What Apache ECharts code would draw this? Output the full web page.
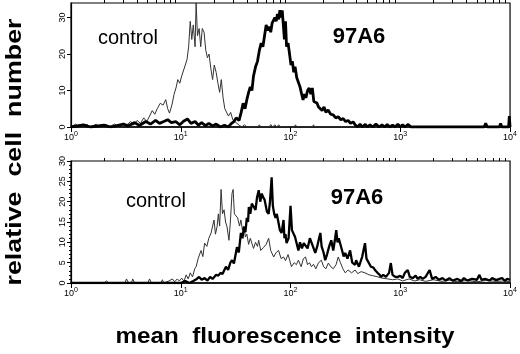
<!DOCTYPE html>
<html>
<head>
<meta charset="utf-8">
<script src="https://cdn.jsdelivr.net/npm/echarts@6/dist/echarts.min.js"></script>
<style>
  html, body { margin: 0; padding: 0; background: #fff; }
  #chart { width: 520px; height: 354px; }
</style>
</head>
<body>
<div id="chart"></div>
<script>
// decade ticks and 2..9 ticks of the log axis
var decades = [1, 10, 100, 1000, 10000];
var minorTicks = [2, 3, 4, 5, 6, 7, 8, 9, 20, 30, 40, 50, 60, 70, 80, 90,
  200, 300, 400, 500, 600, 700, 800, 900, 2000, 3000, 4000, 5000, 6000, 7000, 8000, 9000];

// upper panel: control (thin) and 97A6 (thick) histograms, [intensity, count]
var topControl = [
  [1, 0], [1.1, 0.8], [1.2, 0], [1.4, 0.7], [1.5, 0], [1.7, 0.8], [1.8, 0], [2.1, 0.6], [2.2, 0],
  [2.5, 0.8], [2.7, 0], [3.0, 1], [3.2, 0.5], [3.5, 1.5], [3.7, 0.5], [4.0, 1.8], [4.3, 1],
  [4.6, 2.5], [4.9, 1.5], [5.2, 3], [5.5, 4.5], [5.8, 3.5], [6.1, 5], [6.5, 6.5], [6.9, 6],
  [7.3, 7.5], [7.6, 5], [7.9, 3.8], [8.3, 6], [8.7, 9], [9.1, 11], [9.4, 13], [9.8, 12],
  [10.2, 14], [10.6, 13.5], [11, 17], [11.4, 18.5], [11.8, 22], [12.2, 29], [12.6, 24],
  [13, 28], [13.5, 22], [13.8, 34], [14.2, 25], [14.7, 27], [15.2, 22], [15.7, 27], [16.3, 26],
  [16.9, 21], [17.5, 19], [18.1, 20], [18.8, 16], [19.5, 13], [20.2, 17], [21, 15], [21.8, 12],
  [22.6, 9.5], [23.4, 13], [24.3, 8], [25.2, 5], [26.2, 4.5], [27.2, 3], [28.5, 4], [29.8, 2],
  [31, 1.5], [32.5, 1], [34, 0.5], [36, 0], [38, 0.6], [40, 0], [50, 0], [52, 0.6], [54, 0],
  [64, 0], [66, 0.7], [69, 0], [72, 0.6], [75, 0], [78, 0.6], [81, 0], [108, 0], [111, 0.6],
  [114, 0], [158, 0], [162, 0.6], [166, 0], [10000, 0]
];
var top97A6 = [
  [1, 0], [1.3, 0.6], [1.5, 0], [2, 0.5], [2.3, 0], [3, 0.8], [3.3, 0.3], [3.8, 1.2], [4.2, 0.4],
  [4.8, 1.5], [5.3, 0.8], [5.9, 1.8], [6.4, 1], [7, 1.5], [7.6, 2], [8.2, 1.2], [9, 1.5],
  [9.8, 0.6], [10.6, 1.6], [11.5, 2.2], [12.4, 1], [13.5, 1.5], [14.5, 0.5], [15.5, 1.2],
  [16.8, 0.4], [18, 1], [19.5, 0.3], [21, 0.8], [23, 0], [25, 0.5], [27, 0], [29, 1], [30.5, 1.5],
  [32, 2.5], [34, 1.8], [35.5, 4], [37, 6.5], [38.5, 5], [40, 7.5], [41.5, 9.5], [43, 11],
  [44.5, 10], [46, 14], [48, 16.5], [50, 18], [52, 21], [54, 23], [56, 22], [58, 25], [60, 28],
  [62, 26.5], [64, 27.5], [66, 26], [68, 28.5], [70, 28], [72, 30], [74, 29], [76, 31],
  [78, 29.5], [80, 32], [82, 30], [84, 32], [86, 31.5], [88, 24], [90, 29], [92, 22], [95, 23],
  [98, 20], [101, 17], [104, 18], [107, 15], [110, 16.5], [114, 13.5], [118, 13.8], [122, 11],
  [126, 10.5], [130, 7.4], [134, 9], [138, 8], [143, 10], [148, 10.7], [153, 9], [158, 10.7],
  [163, 7], [168, 7.4], [174, 6.6], [180, 5.5], [187, 6], [194, 4.5], [202, 5.5], [210, 4],
  [220, 4.7], [232, 3.5], [245, 3.3], [258, 2.5], [272, 2.8], [287, 2], [302, 2.3], [318, 1.5],
  [335, 1.8], [352, 1], [372, 1.4], [390, 0.5], [410, 0], [430, 0.8], [450, 0], [480, 0.7],
  [500, 0], [530, 0.6], [560, 0], [600, 0.8], [640, 0], [680, 0.6], [720, 0], [760, 0.7],
  [800, 0], [850, 0.5], [900, 0], [950, 0.8], [1000, 0], [1050, 0.6], [1100, 0], [1180, 0.7],
  [1250, 0], [5800, 0], [6000, 1], [6200, 0], [8000, 0], [8200, 1], [8400, 0], [9700, 0],
  [9850, 3], [10000, 0]
];

// lower panel
var bottomControl = [
  [1, 0], [2, 0], [2.1, 0.5], [2.2, 0], [3.1, 0], [3.2, 1], [3.35, 0], [3.55, 0], [3.65, 1],
  [3.8, 0], [5.0, 0], [5.2, 1], [5.4, 0], [6.6, 0], [6.8, 0.8], [7, 0], [7.8, 0.5], [8.4, 1],
  [8.8, 0.3], [9.3, 1], [9.7, 0.5], [10.2, 1.2], [10.7, 0.4], [11.2, 2], [11.7, 1], [12.2, 2.5],
  [12.8, 1.5], [13.4, 3.5], [13.8, 4], [14.4, 6], [15.3, 8], [15.9, 6.5], [16.5, 9.8], [17.3, 9],
  [18, 11], [18.9, 12.3], [19.5, 14], [20.1, 15.5], [20.7, 12], [21.4, 13.8], [22, 17],
  [22.6, 14], [23.3, 23], [24, 17], [24.8, 18], [25.6, 15], [26.4, 13.8], [27.5, 10.5],
  [28.3, 15], [29.3, 22], [30, 23], [30.8, 17], [31.8, 17], [33, 16], [34.3, 14], [35.3, 15.5],
  [36.5, 13], [37.6, 14], [38.8, 11.3], [40, 12], [41.5, 9.5], [43, 11], [44.4, 9.8], [46, 8.5],
  [48, 10], [50, 9], [51.3, 10.5], [53.5, 8], [57, 8.8], [60, 9.5], [63.2, 11], [66, 8],
  [70.2, 6.4], [74, 7.5], [77.9, 8], [82, 6], [86.4, 6.4], [90, 5.5], [95, 7], [102, 4],
  [108, 5], [113, 4.5], [118, 5.6], [125, 4], [131, 6], [137, 6.4], [143, 4.5], [149, 5],
  [155, 4], [162, 4.6], [170, 3.5], [180, 5], [191, 5.6], [200, 4], [210, 3.5], [221, 4.9],
  [233, 4], [245, 3.5], [260, 4.5], [272, 6.4], [285, 5], [300, 3.5], [315, 2.5], [335, 3.2],
  [360, 2.5], [387, 3.2], [410, 2.3], [440, 2.8], [477, 2.5], [520, 2], [560, 1.8], [625, 1.5],
  [680, 1.2], [771, 1], [850, 0.8], [950, 1], [1050, 0.5], [1200, 1], [1350, 0.5], [1500, 0.8],
  [1700, 0.4], [2000, 0.8], [2400, 0.4], [2800, 0.7], [3300, 0.3], [4000, 0.6], [5000, 0.3],
  [6000, 0.6], [7500, 0.4], [9000, 0.5], [10000, 0.3]
];
var bottom97A6 = [
  [1, 0], [10, 0], [11, 0.5], [12, 0], [13, 0.5], [14, 1], [14.7, 1.5], [15.5, 0.8], [16.5, 1.2],
  [17.5, 0.6], [18.5, 1.5], [19.5, 1], [21, 2], [22, 1.8], [23, 2.5], [24, 2.2], [25.8, 4],
  [27, 3.2], [28.3, 5], [29.3, 5.6], [30.5, 4.8], [31.6, 7], [32.5, 8.8], [33.8, 7.5],
  [35.3, 12.3], [36.5, 11], [37.6, 13.8], [38.8, 12.5], [40, 16], [41, 15], [41.7, 18.7],
  [43, 17], [44.4, 19.5], [46.3, 19.7], [48, 18], [49.5, 21], [51.3, 22.8], [53, 20], [54.7, 22],
  [56.5, 21], [58, 20.5], [59.4, 20.4], [61, 17.5], [63.2, 17], [65, 20], [67.3, 26], [69, 19],
  [71, 17], [73.1, 16], [75, 17], [77.9, 14.7], [80, 13], [82.9, 12.3], [86.4, 15.5], [88, 11],
  [90, 12], [92, 9.8], [96, 11], [100, 19], [103, 13], [106, 13], [110, 11.3], [113, 11],
  [118, 8], [122, 10], [127, 8.5], [132, 9.8], [137, 9.8], [143, 8.5], [150, 11], [155, 11],
  [160, 9], [168, 7.4], [175, 9], [182, 11], [187, 12.3], [192, 9], [200, 7.5], [207, 5.6],
  [215, 7], [225, 9], [235, 10.5], [245, 8], [255, 11], [261, 13], [268, 10], [275, 11],
  [283, 11.3], [295, 8], [305, 6.5], [315, 7.4], [330, 6], [349, 8], [365, 5], [387, 4.5],
  [396, 5.6], [420, 4], [450, 6.5], [477, 9.8], [492, 6], [508, 5.6], [540, 4], [570, 3.8],
  [588, 3.2], [620, 2.5], [650, 2], [666, 1.5], [700, 2], [740, 1.5], [790, 2.5], [820, 4.9],
  [850, 2], [900, 1.5], [949, 1.5], [1000, 1.8], [1050, 1.2], [1100, 2.5], [1169, 3.2],
  [1220, 1.5], [1300, 1.2], [1380, 1.8], [1440, 1], [1520, 1.5], [1600, 1], [1700, 1.5],
  [1850, 3.2], [1950, 1], [2100, 1.5], [2250, 0.8], [2425, 1.2], [2600, 0.6], [2800, 1.2],
  [3000, 0.6], [3315, 1], [3600, 0.5], [3800, 1.2], [4080, 0.6], [4500, 1], [5000, 0.8],
  [5240, 2], [5500, 0.8], [6000, 1], [6500, 0.6], [6870, 1.2], [7500, 0.7], [8000, 1],
  [8470, 1.2], [9000, 0.5], [9400, 1], [10000, 0.8]
];

var FONT = 'Liberation Sans';

function decadeAxis(grid) {
  return {
    type: 'log', logBase: 10, gridIndex: grid, min: 1, max: 10000,
    axisLine: { lineStyle: { color: '#000', width: 1.6 } },
    axisTick: { customValues: decades, length: 5, lineStyle: { color: '#000', width: 1 } },
    axisLabel: {
      customValues: decades, margin: 4, color: '#000',
      formatter: function (v) {
        return '{n|10}{e|' + Math.round(Math.log10(v)) + '}';
      },
      rich: {
        n: { fontFamily: FONT, fontSize: 9, color: '#000' },
        e: { fontFamily: FONT, fontSize: 7, color: '#000', padding: [0, 0, 7, 0] }
      }
    },
    splitLine: { show: false }
  };
}
function minorAxis(grid) {
  return {
    type: 'log', logBase: 10, gridIndex: grid, min: 1, max: 10000,
    axisLine: { show: false },
    axisTick: { customValues: minorTicks, length: 3, lineStyle: { color: '#000', width: 1 } },
    axisLabel: { show: false },
    splitLine: { show: false }
  };
}
function lineSeries(name, data, xi, yi, width, color) {
  return {
    name: name, type: 'line', data: data, xAxisIndex: xi, yAxisIndex: yi,
    showSymbol: false, symbol: 'none', animation: false,
    lineStyle: { width: width, color: color }
  };
}

var chart = echarts.init(document.getElementById('chart'));
chart.setOption({
  backgroundColor: '#fff',
  animation: false,
  grid: [
    { left: 71, top: 3, width: 441, height: 124, show: true, borderColor: '#000', borderWidth: 1.2 },
    { left: 71, top: 161, width: 441, height: 122, show: true, borderColor: '#000', borderWidth: 1.2 }
  ],
  xAxis: [decadeAxis(0), minorAxis(0), decadeAxis(1), minorAxis(1)],
  yAxis: [
    {
      type: 'value', gridIndex: 0, min: 0, max: 34, interval: 10,
      axisLine: { show: true, lineStyle: { color: '#000', width: 1.2 } },
      axisTick: { show: true, length: 4, lineStyle: { color: '#000' } },
      axisLabel: { rotate: 90, fontSize: 9, fontFamily: FONT, color: '#000', margin: 4, showMaxLabel: false },
      splitLine: { show: false }
    },
    {
      type: 'value', gridIndex: 1, min: 0, max: 30, interval: 5,
      axisLine: { show: true, lineStyle: { color: '#000', width: 1.2 } },
      axisTick: { show: true, length: 4, lineStyle: { color: '#000' } },
      minorTick: { show: true, splitNumber: 5, length: 2, lineStyle: { color: '#000' } },
      axisLabel: { rotate: 90, fontSize: 9, fontFamily: FONT, color: '#000', margin: 4 },
      splitLine: { show: false }
    }
  ],
  series: [
    lineSeries('control', topControl, 0, 0, 1, '#333'),
    lineSeries('97A6', top97A6, 0, 0, 2.8, '#000'),
    lineSeries('control', bottomControl, 2, 1, 1, '#333'),
    lineSeries('97A6', bottom97A6, 2, 1, 2.3, '#000')
  ],
  graphic: [
    { type: 'text', x: 128, y: 38, style: { text: 'control', font: '20px "Liberation Sans"', fill: '#000', textAlign: 'center', textVerticalAlign: 'middle' } },
    { type: 'text', x: 359, y: 37, style: { text: '97A6', font: 'bold 22px "Liberation Sans"', fill: '#000', textAlign: 'center', textVerticalAlign: 'middle' } },
    { type: 'text', x: 156, y: 201, style: { text: 'control', font: '20px "Liberation Sans"', fill: '#000', textAlign: 'center', textVerticalAlign: 'middle' } },
    { type: 'text', x: 357, y: 198, style: { text: '97A6', font: 'bold 22px "Liberation Sans"', fill: '#000', textAlign: 'center', textVerticalAlign: 'middle' } },
    { type: 'text', x: 15, y: 152, rotation: Math.PI / 2, scaleX: 1.22,
      style: { text: 'relative  cell  number', font: 'bold 22px "Liberation Sans"', fill: '#000', textAlign: 'center', textVerticalAlign: 'middle' } },
    { type: 'text', x: 285, y: 337, scaleX: 1.1,
      style: { text: 'mean  fluorescence  intensity', font: 'bold 22px "Liberation Sans"', fill: '#000', textAlign: 'center', textVerticalAlign: 'middle' } }
  ]
});
</script>
</body>
</html>
